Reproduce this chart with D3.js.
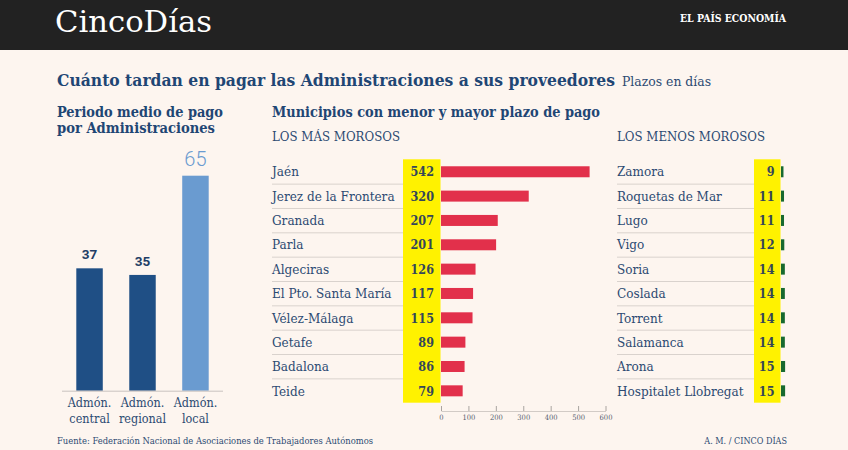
<!DOCTYPE html>
<html><head><meta charset="utf-8">
<script src="https://cdn.jsdelivr.net/npm/d3@7"></script>
<style>
html,body{margin:0;padding:0;background:#fdf5ef;}
svg{display:block;}
</style></head>
<body>
<script>
const brandName = "CincoDías";
const brandRight = "EL PAÍS ECONOMÍA";
const mainTitle = "Cuánto tardan en pagar las Administraciones a sus proveedores";
const mainUnit = "Plazos en días";
const adminTitle = ["Periodo medio de pago", "por Administraciones"];
const adminCats = [["Admón.", "central"], ["Admón.", "regional"], ["Admón.", "local"]];
const adminValues = [37, 35, 65];
const muniTitle = "Municipios con menor y mayor plazo de pago";
const worstTitle = "LOS MÁS MOROSOS";
const worstNames = ["Jaén", "Jerez de la Frontera", "Granada", "Parla", "Algeciras", "El Pto. Santa María", "Vélez-Málaga", "Getafe", "Badalona", "Teide"];
const worstValues = [542, 320, 207, 201, 126, 117, 115, 89, 86, 79];
const bestTitle = "LOS MENOS MOROSOS";
const bestNames = ["Zamora", "Roquetas de Mar", "Lugo", "Vigo", "Soria", "Coslada", "Torrent", "Salamanca", "Arona", "Hospitalet Llobregat"];
const bestValues = [9, 11, 11, 12, 14, 14, 14, 14, 15, 15];
const axisTicks = [0, 100, 200, 300, 400, 500, 600];
const sourceText = "Fuente: Federación Nacional de Asociaciones de Trabajadores Autónomos";
const creditText = "A. M. / CINCO DÍAS";

const W = 848, H = 450;
const SERIF = "'DejaVu Serif Condensed','DejaVu Serif',serif";
const navy = "#1f4674";
const textBlue = "#2c4a72";

const svg = d3.select("body").append("svg").attr("width", W).attr("height", H);
svg.append("rect").attr("width", W).attr("height", H).attr("fill", "#fdf5ef");

// header
svg.append("rect").attr("width", W).attr("height", 50).attr("fill", "#222222");
svg.append("text").attr("x", 55).attr("y", 32).attr("fill", "#ffffff")
  .attr("font-family", "'DejaVu Serif',serif").attr("font-size", 29)
  .attr("textLength", 157).attr("lengthAdjust", "spacingAndGlyphs").text(brandName);
svg.append("text").attr("x", 680).attr("y", 22).attr("fill", "#ffffff")
  .attr("font-family", SERIF).attr("font-weight", "bold").attr("font-size", 10.5)
  .attr("textLength", 106).attr("lengthAdjust", "spacingAndGlyphs").text(brandRight);

// titles
svg.append("text").attr("x", 57).attr("y", 86).attr("fill", navy)
  .attr("font-family", SERIF).attr("font-weight", "bold").attr("font-size", 17)
  .attr("textLength", 558).attr("lengthAdjust", "spacingAndGlyphs").text(mainTitle);
svg.append("text").attr("x", 622).attr("y", 86).attr("fill", textBlue)
  .attr("font-family", SERIF).attr("font-size", 13)
  .attr("textLength", 89).attr("lengthAdjust", "spacingAndGlyphs").text(mainUnit);

svg.selectAll("text.at").data(adminTitle).join("text").attr("class", "at")
  .attr("x", 57).attr("y", (d, i) => 116.5 + i * 16.3).attr("fill", navy)
  .attr("font-family", SERIF).attr("font-weight", "bold").attr("font-size", 14.5)
  .attr("textLength", (d, i) => i === 0 ? 166 : 158).attr("lengthAdjust", "spacingAndGlyphs")
  .text(d => d);

svg.append("text").attr("x", 272).attr("y", 116.5).attr("fill", navy)
  .attr("font-family", SERIF).attr("font-weight", "bold").attr("font-size", 14.5)
  .attr("textLength", 328).attr("lengthAdjust", "spacingAndGlyphs").text(muniTitle);
svg.append("text").attr("x", 272).attr("y", 140.5).attr("fill", textBlue)
  .attr("font-family", SERIF).attr("font-size", 12)
  .attr("textLength", 128).attr("lengthAdjust", "spacingAndGlyphs").text(worstTitle);
svg.append("text").attr("x", 617).attr("y", 140.5).attr("fill", textBlue)
  .attr("font-family", SERIF).attr("font-size", 12)
  .attr("textLength", 148).attr("lengthAdjust", "spacingAndGlyphs").text(bestTitle);

// left admin chart
const xA = d3.scaleBand().domain(d3.range(adminValues.length)).range([62, 223]).paddingInner(0.5).paddingOuter(0.27);
const yA = d3.scaleLinear().domain([0, 65]).range([390.7, 175.7]);
const aCol = (i) => i === 2 ? "#6a9bd0" : "#1f4f85";
svg.append("g").selectAll("rect").data(adminValues).join("rect")
  .attr("x", (d, i) => xA(i)).attr("width", xA.bandwidth())
  .attr("y", d => yA(d)).attr("height", d => yA(0) - yA(d))
  .attr("fill", (d, i) => aCol(i));
svg.append("line").attr("x1", 62).attr("x2", 223).attr("y1", yA(0) + 0.5).attr("y2", yA(0) + 0.5)
  .attr("stroke", "#c9c3bf").attr("stroke-width", 1);
svg.append("g").selectAll("text").data(adminValues).join("text")
  .attr("x", (d, i) => xA(i) + xA.bandwidth() / 2)
  .attr("y", (d, i) => yA(d) - (i === 2 ? 9.5 : 9))
  .attr("text-anchor", "middle")
  .attr("font-family", "Roboto, sans-serif")
  .attr("font-weight", (d, i) => i === 2 ? 300 : 700)
  .attr("font-size", (d, i) => i === 2 ? 20 : 13.5)
  .attr("fill", (d, i) => i === 2 ? "#6a9bd0" : "#1f3d66")
  .text(d => d);
const catG = svg.append("g").selectAll("text").data(adminCats).join("text")
  .attr("text-anchor", "middle").attr("fill", textBlue)
  .attr("font-family", SERIF).attr("font-size", 12.5);
catG.each(function (d, i) {
  const t = d3.select(this);
  d.forEach((line, j) => {
    t.append("tspan").attr("x", xA(i) + xA.bandwidth() / 2).attr("y", 407 + j * 15.5).text(line);
  });
});

// rows
const yR = d3.scaleBand().domain(d3.range(10)).range([159.3, 402.7]);
const xW = d3.scaleLinear().domain([0, 600]).range([441, 605.5]);
const xB = d3.scaleLinear().domain([0, 600]).range([781, 945.5]);

function table(names, values, xName, lineEnd, yx0, yx1, numX, xs, barColor) {
  const g = svg.append("g");
  g.append("rect").attr("x", yx0).attr("y", yR.range()[0]).attr("width", yx1 - yx0)
    .attr("height", yR.range()[1] - yR.range()[0]).attr("fill", "#fff200");
  g.selectAll("line.sep").data(d3.range(1, names.length)).join("line").attr("class", "sep")
    .attr("x1", xName).attr("x2", lineEnd)
    .attr("y1", d => yR(d) + 0.5).attr("y2", d => yR(d) + 0.5)
    .attr("stroke", "#d9d2cd").attr("stroke-width", 1);
  g.selectAll("text.nm").data(names).join("text").attr("class", "nm")
    .attr("x", xName).attr("y", (d, i) => yR(i) + yR.bandwidth() / 2 + 5)
    .attr("fill", textBlue).attr("font-family", SERIF).attr("font-size", 13.4)
    .text(d => d);
  g.selectAll("text.val").data(values).join("text").attr("class", "val")
    .attr("x", numX).attr("y", (d, i) => yR(i) + yR.bandwidth() / 2 + 5)
    .attr("text-anchor", "end")
    .attr("fill", "#34465a").attr("font-family", SERIF).attr("font-weight", "bold").attr("font-size", 12.5)
    .text(d => d);
  const bh = 11;
  g.selectAll("rect.bar").data(values).join("rect").attr("class", "bar")
    .attr("x", xs(0)).attr("y", (d, i) => yR(i) + yR.bandwidth() / 2 - bh / 2 + 0.3)
    .attr("width", d => xs(d) - xs(0)).attr("height", bh)
    .attr("fill", barColor);
}
table(worstNames, worstValues, 272, 403, 403, 440.5, 434, xW, "#e2304b");
table(bestNames, bestValues, 617, 754, 754, 780.5, 774.5, xB, "#17692f");

// axis
const ax = svg.append("g").attr("transform", "translate(0,411)")
  .call(d3.axisBottom(xW).tickValues(axisTicks).tickSizeInner(-5).tickSizeOuter(0).tickPadding(4));
ax.select(".domain").attr("stroke", "#d2cbc6");
ax.selectAll(".tick line").attr("stroke", "#a9a4a0");
ax.selectAll(".tick text").attr("fill", "#55606e").attr("font-family", SERIF).attr("font-size", 7.5);

// footer
svg.append("text").attr("x", 57).attr("y", 443.5).attr("fill", textBlue)
  .attr("font-family", SERIF).attr("font-size", 9)
  .attr("textLength", 316).attr("lengthAdjust", "spacingAndGlyphs").text(sourceText);
svg.append("text").attr("x", 787).attr("y", 443.5).attr("fill", textBlue).attr("text-anchor", "end")
  .attr("font-family", SERIF).attr("font-size", 9)
  .text(creditText);
</script>
</body></html>
